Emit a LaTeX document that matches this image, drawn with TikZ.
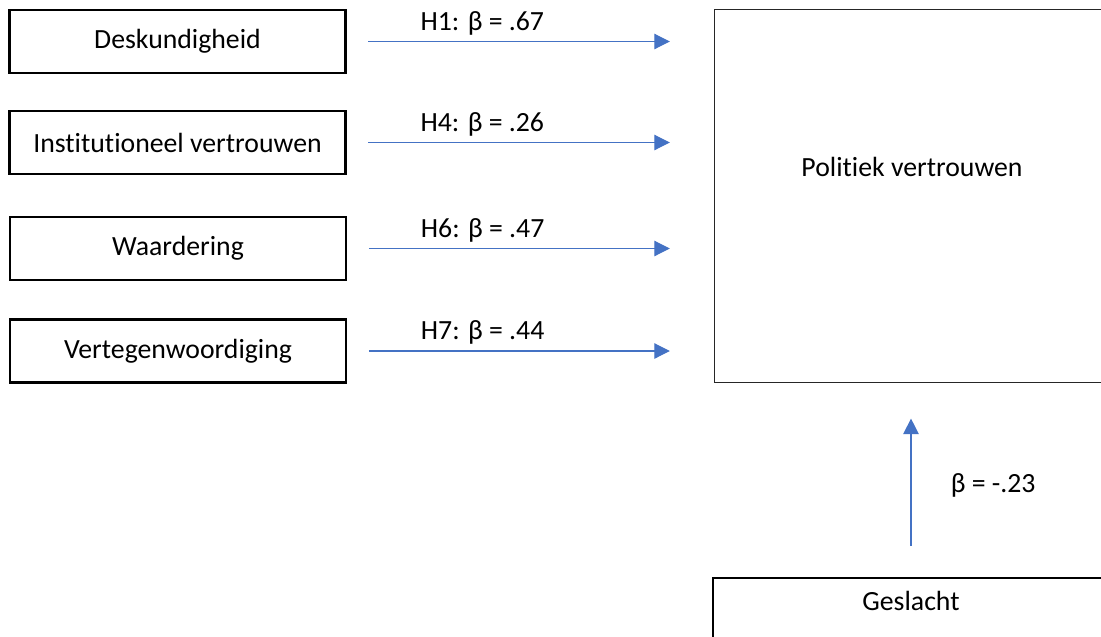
\documentclass[tikz,border=0pt]{standalone}
\usepackage{fontspec}
\setmainfont{Carlito}[Ligatures=NoCommon]
\usetikzlibrary{arrows.meta}
\definecolor{effectblue}{HTML}{4472C4}

\begin{document}
\begin{tikzpicture}[x=0.02cm,y=-0.02cm,
  font=\fontsize{15.8}{19}\selectfont,
  var/.style={draw=black,line width=1.2pt,minimum width=6.72cm,minimum height=1.26cm},
  outcome/.style={draw=black!85,line width=0.6pt,minimum width=7.92cm,minimum height=7.45cm},
  effect/.style={draw=effectblue,line width=0.6pt,-{Triangle[length=8.8pt,width=8.8pt]},
    shorten <=12.5pt,shorten >=24.9pt}]
\clip (0,0) rectangle (1101,636);
\node[var] (1) at (177.5,41.5) {Deskundigheid};
\node[var] (2) at (177.5,142.5) {Institutioneel vertrouwen};
\node[var] (3) at (178,248.5) {Waardering};
\node[var] (4) at (178,351) {Vertegenwoordiging};
\node[outcome] (5) at (912,196) {};
\node (5t) at (912,167) {Politiek vertrouwen};
\node[var,minimum width=7.92cm,text depth=10pt] (6) at (911,609.5) {Geslacht};
\draw[effect] (1.east) -- node[above,pos=.37] {H1: β = .67} (1.east -| 5.west);
\draw[effect] (2.east) -- node[above,pos=.37] {H4: β = .26} (2.east -| 5.west);
\draw[effect] (3.east) -- node[above,pos=.37] {H6: β = .47} (3.east -| 5.west);
\draw[effect] (4.east) -- node[above,pos=.37] {H7: β = .44} (4.east -| 5.west);
\draw[effect,shorten <=17.6pt,shorten >=20.4pt] (6.north) -- node[right=19pt,pos=.47] {β = -.23} (6.north |- 5.south);
\end{tikzpicture}
\end{document}
